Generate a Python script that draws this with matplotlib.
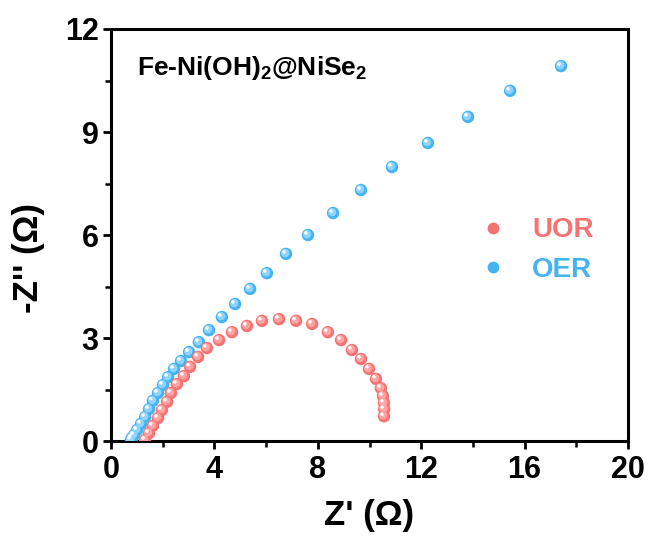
import matplotlib
matplotlib.use("Agg")
import matplotlib.pyplot as plt
import matplotlib.transforms as mtransforms
from matplotlib.lines import Line2D

# ---- data ----
uor_x = [1.32, 1.47, 1.62, 1.82, 1.97, 2.17, 2.32, 2.55, 2.82, 3.06, 3.37, 3.71,
         4.18, 4.68, 5.26, 5.84, 6.50, 7.16, 7.78, 8.39, 8.90, 9.32, 9.67, 9.98,
         10.25, 10.44, 10.52, 10.56, 10.57, 10.56]
uor_y = [0.03, 0.23, 0.44, 0.67, 0.90, 1.14, 1.40, 1.66, 1.89, 2.16, 2.45, 2.71,
         2.94, 3.17, 3.35, 3.50, 3.55, 3.50, 3.41, 3.17, 2.94, 2.65, 2.39, 2.10,
         1.81, 1.54, 1.31, 1.11, 0.93, 0.72]

oer_x = [0.77, 0.81, 0.89, 1.01, 1.16, 1.32, 1.47, 1.62, 1.82, 2.01, 2.21, 2.44,
         2.71, 3.02, 3.40, 3.79, 4.29, 4.80, 5.38, 6.03, 6.77, 7.62, 8.59, 9.67,
         10.87, 12.26, 13.81, 15.44, 17.41]
oer_y = [0.03, 0.09, 0.17, 0.32, 0.50, 0.70, 0.93, 1.17, 1.40, 1.63, 1.86, 2.10,
         2.33, 2.59, 2.88, 3.23, 3.61, 3.99, 4.43, 4.89, 5.45, 6.00, 6.64, 7.31,
         7.98, 8.68, 9.44, 10.20, 10.92]

series_labels = ["UOR", "OER"]
x_ticks = [0, 4, 8, 12, 16, 20]
y_ticks = [0, 3, 6, 9, 12]
annotation = r"Fe-Ni(OH)$_{2}$@NiSe$_{2}$"

uor_color = "#F77272"
uor_light = "#FFA3A3"
oer_color = "#45B3F2"
oer_light = "#8FD4FF"

plt.rcParams["font.family"] = ["Liberation Sans", "DejaVu Sans"]
plt.rcParams["font.weight"] = "bold"
plt.rcParams["mathtext.fontset"] = "custom"
plt.rcParams["mathtext.rm"] = "Liberation Sans:bold"
plt.rcParams["mathtext.bf"] = "Liberation Sans:bold"
plt.rcParams["mathtext.it"] = "Liberation Sans:bold"
plt.rcParams["mathtext.default"] = "bf"

fig = plt.figure(figsize=(6.53, 5.40), dpi=100)
ax = fig.add_axes([0.170, 0.1833, 0.7917, 0.763])

def sphere(ax, x, y, base, light, s=80):
    ax.scatter(x, y, s=s, color=base, edgecolors="none", zorder=3)
    t1 = mtransforms.offset_copy(ax.transData, fig=fig, x=-0.6, y=0.6, units="points")
    ax.scatter(x, y, s=s * 0.45, color=light, edgecolors="none", zorder=4, transform=t1)
    t2 = mtransforms.offset_copy(ax.transData, fig=fig, x=-1.5, y=1.5, units="points")
    ax.scatter(x, y, s=s * 0.08, color="white", edgecolors="none", zorder=5, transform=t2)

sphere(ax, oer_x, oer_y, oer_color, oer_light)
sphere(ax, uor_x, uor_y, uor_color, uor_light)

ax.set_xlim(0, 20)
ax.set_ylim(0, 12)
ax.set_xticks(x_ticks)
ax.set_yticks(y_ticks)
ax.set_xticks([2, 6, 10, 14, 18], minor=True)
ax.set_yticks([1.5, 4.5, 7.5, 10.5], minor=True)
ax.tick_params(axis="both", which="major", direction="out", length=6, width=2,
               labelsize=22, pad=4)
ax.tick_params(axis="y", which="major", pad=3)
ax.tick_params(axis="both", which="minor", direction="out", length=4, width=1.8)
for lab in ax.get_xticklabels() + ax.get_yticklabels():
    lab.set_fontweight("bold")
for sp in ax.spines.values():
    sp.set_linewidth(2.2)

ax.set_xlabel("Z' (Ω)", fontsize=25, fontweight="bold", labelpad=10)
ax.set_ylabel("-Z'' (Ω)", fontsize=25, fontweight="bold")
ax.yaxis.set_label_coords(-0.128, 0.445)

ax.text(0.05, 0.905, annotation, transform=ax.transAxes, fontsize=19,
        fontweight="bold", va="center", ha="left")

h1 = Line2D([], [], ls="none", marker="o", ms=8.5, mfc=uor_color, mec="none")
h2 = Line2D([], [], ls="none", marker="o", ms=8.5, mfc=oer_color, mec="none")
leg = ax.legend([h1, h2], series_labels, loc="center left",
                bbox_to_anchor=(0.663, 0.463), frameon=False,
                prop={"size": 20, "weight": "bold"}, handletextpad=0.92,
                labelspacing=0.5, handlelength=1.0)
for txt, c in zip(leg.get_texts(), [uor_color, oer_color]):
    txt.set_color(c)

fig.savefig("out.png", dpi=100, facecolor="white")
